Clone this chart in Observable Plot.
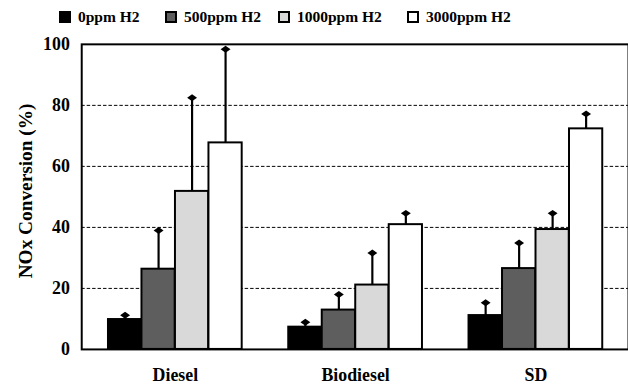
<!DOCTYPE html>
<html><head><meta charset="utf-8">
<script src="https://cdn.jsdelivr.net/npm/d3@7"></script>
<script src="https://cdn.jsdelivr.net/npm/@observablehq/plot@0.6"></script>
<style>
html,body{margin:0;padding:0;overflow:hidden;background:#fff;width:628px;height:384px}
#legend{position:relative;height:28px;font-family:"Liberation Serif",serif;font-weight:bold;font-size:15.5px;color:#000}
.item{position:absolute;top:8px;display:flex;align-items:center;white-space:nowrap;line-height:17px}
.sw{box-sizing:border-box;width:12px;height:12px;border:2px solid #000;margin-right:7px}
#chart svg{display:block}
</style></head><body>
<div id="legend"></div><div id="chart"></div>
<script>
const fuels = ["Diesel", "Biodiesel", "SD"];
const series = ["0ppm H2", "500ppm H2", "1000ppm H2", "3000ppm H2"];
const colors = ["#000000", "#5e5e5e", "#d9d9d9", "#ffffff"];
const yTicks = [0, 20, 40, 60, 80, 100];
// mean values per fuel (one per series)
const dieselMean = [9.8, 26.3, 51.8, 67.7];
const biodieselMean = [7.3, 12.9, 21.1, 40.9];
const sdMean = [11.1, 26.5, 39.3, 72.3];
// upper end of error bars
const dieselTop = [11.2, 39.0, 82.5, 98.4];
const biodieselTop = [8.9, 18.0, 31.6, 44.6];
const sdTop = [15.3, 34.9, 44.6, 77.2];

const means = [dieselMean, biodieselMean, sdMean];
const tops = [dieselTop, biodieselTop, sdTop];
const data = [];
fuels.forEach((f, i) => series.forEach((s, j) => data.push({fuel: f, series: s, j, value: means[i][j], top: tops[i][j]})));

// legend
const legendX = [59, 165, 278, 407];
const legend = document.getElementById("legend");
series.forEach((s, j) => {
  const it = document.createElement("div");
  it.className = "item";
  it.style.left = legendX[j] + "px";
  it.innerHTML = `<span class="sw" style="background:${colors[j]}"></span><span>${s}</span>`;
  legend.appendChild(it);
});

const W = 634, ML = 82, MR = 0;
const pInner = 0.26, pOuter = 0.14;
const step = (W - ML - MR) / (fuels.length - pInner + 2 * pOuter);
const bw = step * (1 - pInner);
const sub = bw / series.length;

// flat diamond marker
const flatDiamond = {
  draw(ctx, size) {
    const w = 5, h = 3.5;
    ctx.moveTo(0, -h); ctx.lineTo(w, 0); ctx.lineTo(0, h); ctx.lineTo(-w, 0); ctx.closePath();
  }
};

const marks = [
  Plot.gridY(yTicks.filter(t => t > 0 && t < 100), {stroke: "#000", strokeOpacity: 1, strokeWidth: 1, strokeDasharray: "3.5,2"}),
];
series.forEach((s, j) => {
  const dj = data.filter(d => d.j === j);
  marks.push(Plot.barY(dj, {x: "fuel", y: "value", fill: "series", stroke: "#000", strokeWidth: 2,
    insetLeft: j * sub, insetRight: (series.length - 1 - j) * sub}));
});
series.forEach((s, j) => {
  const dj = data.filter(d => d.j === j);
  const off = (j - (series.length - 1) / 2) * sub;
  marks.push(Plot.ruleX(dj, {x: "fuel", y1: "value", y2: "top", stroke: "#000", strokeWidth: 2.2, dx: off}));
  marks.push(Plot.dot(dj, {x: "fuel", y: "top", symbol: flatDiamond, r: 4, fill: "#000", stroke: "none", dx: off}));
});
marks.push(Plot.frame({stroke: "#000", strokeWidth: 2}));
marks.push(Plot.axisY({ticks: yTicks, tickSize: 0, tickPadding: 12, label: null, fontSize: 18, fontWeight: "bold"}));
marks.push(Plot.axisX({tickSize: 0, tickPadding: 19, label: null, fontSize: 18, fontWeight: "bold"}));
marks.push(Plot.text(["NOx Conversion (%)"], {text: d => d, frameAnchor: "left", textAnchor: "middle", rotate: -90, dx: -56, dy: -6, fontSize: 19.5, fontWeight: "bold"}));

const chart = Plot.plot({
  width: W, height: 356,
  marginLeft: ML, marginRight: MR, marginTop: 16, marginBottom: 32,
  style: {fontFamily: "Liberation Serif, serif", fontWeight: "bold", fontSize: "18px", color: "#000", background: "#fff", overflow: "visible"},
  x: {domain: fuels, paddingInner: pInner, paddingOuter: pOuter, label: null},
  y: {domain: [0, 100], label: null},
  color: {domain: series, range: colors},
  marks
});
document.getElementById("chart").appendChild(chart);
</script>
</body></html>
